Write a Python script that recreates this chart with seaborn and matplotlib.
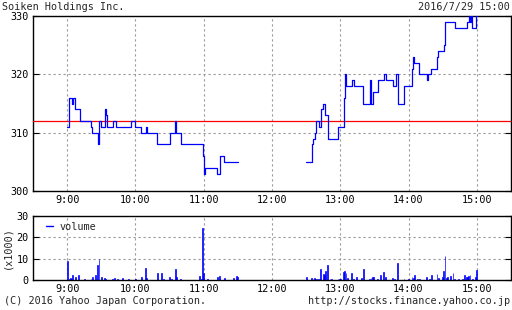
import numpy as np
import pandas as pd
import matplotlib
matplotlib.use("Agg")
import matplotlib.pyplot as plt
from matplotlib.lines import Line2D
from matplotlib.ticker import MultipleLocator
import seaborn as sns

title = "Soiken Holdings Inc."
stamp = "2016/7/29 15:00"
credit = "(C) 2016 Yahoo Japan Corporation."
url = "http://stocks.finance.yahoo.co.jp"
prev_close = 312

am_times = ["9:00","9:02","9:04","9:05","9:07","9:11","9:21","9:22","9:27","9:28",
            "9:30","9:33","9:34","9:35","9:40","9:43","9:56","10:00","10:05","10:09",
            "10:10","10:19","10:30","10:35","10:36","10:40","10:59","11:00","11:01","11:12",
            "11:14","11:18","11:30"]
am_prices = [311,316,315,316,314,312,311,310,308,312,
             311,314,313,311,312,311,312,311,310,311,
             310,308,310,312,310,308,306,303,304,303,
             306,305,305]

pm_times = ["12:30","12:35","12:36","12:38","12:39","12:41","12:43","12:45","12:47","12:49",
            "12:58","13:03","13:04","13:05","13:10","13:12","13:20","13:26","13:27","13:29",
            "13:33","13:38","13:40","13:46","13:49","13:51","13:56","14:03","14:04","14:05",
            "14:09","14:16","14:17","14:20","14:25","14:26","14:31","14:32","14:41","14:51",
            "14:53","14:54","14:55","14:56","14:59","15:00"]
pm_prices = [305,308,309,310,312,311,314,315,313,309,
             311,316,320,318,319,318,315,319,315,317,
             319,320,319,318,320,315,318,321,323,322,
             320,319,320,321,323,324,325,329,328,329,
             330,329,330,328,330,330]

vol_times = ["9:00","9:02","9:03","9:04","9:05","9:07","9:10","9:15","9:21","9:22",
             "9:25","9:27","9:28","9:30","9:33","9:34","9:40","9:42","9:44","9:49",
             "9:54","10:00","10:05","10:09","10:10","10:19","10:23","10:25","10:30","10:32",
             "10:35","10:36","10:40","10:56","10:58","10:59","11:00","11:03","11:12","11:14",
             "11:18","11:26","11:29","11:30",
             "12:30","12:35","12:36","12:37","12:38","12:40","12:42","12:43","12:45","12:46",
             "12:47","12:49","12:51","12:52","12:58","12:59","13:00","13:03","13:04","13:05",
             "13:06","13:10","13:12","13:14","13:19","13:20","13:26","13:27","13:28","13:29",
             "13:33","13:35","13:38","13:40","13:46","13:48","13:50","13:56","14:00","14:03",
             "14:04","14:05","14:08","14:10","14:16","14:18","14:20","14:25","14:26","14:30",
             "14:31","14:32","14:33","14:34","14:37","14:39","14:40","14:44","14:47","14:49",
             "14:51","14:52","14:53","14:54","14:56","14:59","15:00"]
vol_values = [8.9,0.3,0.8,0.3,2.3,1.2,2.3,0.3,0.6,1.2,
              2.2,7.0,9.8,1.2,0.8,0.3,0.6,0.8,0.5,0.8,
              0.6,0.6,1.5,5.4,0.8,3.3,3.4,0.5,1.2,0.5,
              5.1,1.2,0.5,1.9,0.5,24.1,3.4,0.3,1.4,1.9,
              0.9,0.9,1.9,1.4,
              1.2,0.8,0.5,0.8,0.5,0.3,0.6,5.0,2.8,2.3,
              4.2,7.0,0.5,0.3,0.5,0.5,0.3,3.6,4.2,3.4,
              1.1,3.4,0.6,1.2,0.9,5.1,0.6,0.9,1.4,1.2,
              0.5,2.3,3.7,1.2,0.9,0.5,8.1,0.5,0.3,1.4,
              0.9,2.5,0.3,0.5,1.4,0.5,2.5,2.8,0.9,1.4,
              4.4,11.4,0.9,1.4,1.9,3.4,0.6,0.5,0.5,2.3,
              1.2,1.5,1.9,2.3,0.5,1.4,4.7]

hour_ticks = ["9:00","10:00","11:00","12:00","13:00","14:00","15:00"]
price_ticks = [300, 310, 320, 330]
vol_ticks = [0, 10, 20, 30]


def to_hours(s):
    h, m = s.split(":")
    return int(h) + int(m) / 60.0


am = pd.DataFrame({"t": [to_hours(s) for s in am_times], "p": am_prices})
pm = pd.DataFrame({"t": [to_hours(s) for s in pm_times], "p": pm_prices})
vol = pd.DataFrame({"t": [to_hours(s) for s in vol_times], "v": vol_values})

sns.set_style("white")
FONT = ["DejaVu Sans Mono"]
FS = 7.3
plt.rcParams["font.family"] = FONT
plt.rcParams["font.size"] = FS

fig = plt.figure(figsize=(5.12, 3.10), dpi=100)
W, H = 512.0, 310.0
ax = fig.add_axes([33 / W, 1 - 191 / H, (511 - 33) / W, (191 - 16) / H])
axv = fig.add_axes([33 / W, 1 - 280 / H, (511 - 33) / W, (280 - 215.7) / H])

blue = "#0000ff"
grid_kw = dict(color="#999999", linestyle=(0, (2, 2.5)), linewidth=0.8)

# price
ax.axhline(prev_close, color="#ff0000", linewidth=0.9, zorder=3)
for df in (am, pm):
    sns.lineplot(data=df, x="t", y="p", ax=ax, color=blue, linewidth=0.9,
                 drawstyle="steps-post", estimator=None, zorder=4)

# volume
sns.barplot(data=vol, x="t", y="v", ax=axv, color=blue, native_scale=True,
            width=0.8, errorbar=None, linewidth=0.5, edgecolor=blue, saturation=1)

hx = [to_hours(s) for s in hour_ticks]
for a in (ax, axv):
    a.set_xlim(8.5, 15.5)
    a.set_xticks(hx)
    a.set_xticklabels(hour_ticks)
    a.xaxis.set_minor_locator(MultipleLocator(0.5))
    a.set_xlabel("")
    a.set_ylabel("")
    for sp in a.spines.values():
        sp.set_visible(True)
        sp.set_color("black")
        sp.set_linewidth(1.0)
    a.tick_params(axis="both", which="both", direction="in", length=4, width=0.8,
                  colors="black", labelsize=FS, pad=3)
    a.tick_params(axis="x", which="minor", length=4)
    a.tick_params(axis="y", right=True, left=True)
    a.grid(False)
    for x in hx:
        a.axvline(x, zorder=0, **grid_kw)

ax.set_ylim(300, 330)
ax.set_yticks(price_ticks)
for y in price_ticks[1:-1]:
    ax.axhline(y, zorder=0, **grid_kw)

axv.set_ylim(0, 30)
axv.set_yticks(vol_ticks)
for y in vol_ticks[1:-1]:
    axv.axhline(y, zorder=0, **grid_kw)

axv.legend(handles=[Line2D([], [], color=blue, linewidth=1.0)], labels=["volume"],
           loc="upper left", frameon=False, handlelength=0.7, handletextpad=0.6,
           borderaxespad=0.3, fontsize=FS, bbox_to_anchor=(0.012, 1.02))

fig.text(2 / W, 1 - 7 / H, title, ha="left", va="center", fontsize=FS)
fig.text(510 / W, 1 - 7 / H, stamp, ha="right", va="center", fontsize=FS)
fig.text(4 / W, 1 - 301 / H, credit, ha="left", va="center", fontsize=FS)
fig.text(510 / W, 1 - 301 / H, url, ha="right", va="center", fontsize=FS)
fig.text(7 / W, 1 - 248 / H, "(x1000)", ha="center", va="center", rotation=90, fontsize=FS)

fig.savefig("out.png", dpi=100, facecolor="white")
